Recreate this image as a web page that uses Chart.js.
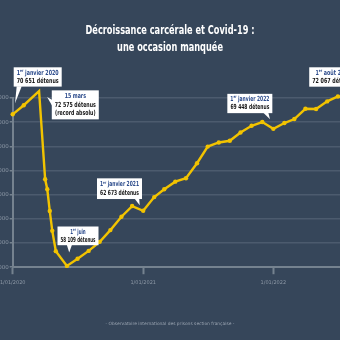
<!DOCTYPE html>
<html lang="fr">
<head>
<meta charset="utf-8">
<title>Décroissance carcérale et Covid-19</title>
<script src="https://cdn.jsdelivr.net/npm/chart.js@4.4.1/dist/chart.umd.min.js"></script>
<style>
    html, body { margin: 0; padding: 0; width: 340px; height: 340px; overflow: hidden; background: #36465a; }
    /* the figure is wider than the window: y labels and the last months are cut off, like the original */
    #wrap { position: absolute; left: -50px; top: 0; width: 440px; height: 340px; }
</style>
</head>
<body>
<div id="wrap"><canvas id="chart" width="440" height="340"></canvas></div>
<script>
// ===== DONNEES =====
const dates = [
    "2020-01-01", "2020-02-01", "2020-03-15", "2020-04-01", "2020-04-07",
    "2020-04-14", "2020-04-21", "2020-05-01", "2020-06-01", "2020-07-01",
    "2020-08-01", "2020-09-01", "2020-10-01", "2020-11-01", "2020-12-01",
    "2021-01-01", "2021-02-01", "2021-03-01", "2021-04-01", "2021-05-01",
    "2021-06-01", "2021-07-01", "2021-08-01", "2021-09-01", "2021-10-01",
    "2021-11-01", "2021-12-01", "2022-01-01", "2022-02-01", "2022-03-01",
    "2022-04-01", "2022-05-01", "2022-06-01", "2022-07-01", "2022-08-01",
];
const detenus = [
    70651, 71400, 72575, 65280, 64450,
    62650, 61010, 59330, 58109, 58700,
    59350, 60100, 61070, 62175, 63060,
    62673, 63800, 64450, 65080, 65360,
    66600, 67980, 68320, 68460, 69150,
    69700, 70010, 69448, 69930, 70260,
    71110, 71090, 71720, 72130, 72067,
];

const xTickDates = ["2020-01-01", "2021-01-01", "2022-01-01"];
const xTickLabels = ["1/01/2020", "1/01/2021", "1/01/2022"];
const yMin = 58000;
const yMax = 72000;
const yStep = 2000;

const calloutDates = ["2020-01-01", "2020-03-15", "2020-06-01", "2021-01-01", "2022-01-01", "2022-08-01"];
const calloutTitles = ["1er janvier 2020", "15 mars", "1er juin", "1er janvier 2021", "1er janvier 2022", "1er août 2022"];
const calloutCounts = ["70 651 détenus", "72 575 détenus", "58 109 détenus", "62 673 détenus", "69 448 détenus", "72 067 détenus"];
const calloutNotes = ["", "(record absolu)", "", "", "", ""];

const titleLines = ["Décroissance carcérale et Covid-19 :", "une occasion manquée"];
const sourceText = "- Observatoire international des prisons section française -";

// ===== MISE EN PAGE DES BULLES (px, relatif au point) =====
const calloutLayout = [
    { dx: 1, dy: -47, w: 48, h: 19.3, tail: [[4, -28], [9, -28], [2.3, -11]] },
    { dx: 12.7, dy: -0.7, w: 47, h: 29, tail: [[13.2, 9], [13.2, 15], [8, 6]] },
    { dx: -9.4, dy: -39.4, w: 41, h: 18.7, tail: [[0, -21], [5, -21], [2.3, -13.5]] },
    { dx: -46.2, dy: -32.4, w: 45, h: 20.7, tail: [[-8.5, -12], [-4, -12], [-3.5, -5.5]] },
    { dx: -46, dy: -35, w: 45, h: 19.3, tail: [[-10, -16], [-5, -16], [-3.3, -9.5]] },
    { dx: -39.7, dy: -29.9, w: 48, h: 19.4, tail: [[-9, -10.8], [-4, -10.8], [-2, -4]] },
];

const YELLOW = "#f2c300";
const GRID = "#4c5b6e";
const AXIS = "#75828f";
const LABEL = "#8d98a6";
const FONT = "'DejaVu Sans', 'Noto Sans', sans-serif";

const DAY0 = Date.UTC(2020, 0, 1);
const dayOf = (d) => {
    const [y, m, j] = d.split("-").map(Number);
    return Math.round((Date.UTC(y, m - 1, j) - DAY0) / 86400000);
};
const fmt = (v) => String(v).replace(/\B(?=(\d{3})+(?!\d))/g, " ");

// largeur d'une ligne "1er ..." (exposant compris)
function lineParts(text) {
    const m = text.match(/^(\d+)(er)( .*)$/);
    return m ? [m[1], m[2], m[3]] : ["", "", text];
}
function lineWidth(ctx, text, size) {
    const [head, sup, rest] = lineParts(text);
    ctx.font = `bold ${size}px ${FONT}`;
    let w = ctx.measureText(head + rest).width;
    ctx.font = `bold ${size * 0.6}px ${FONT}`;
    return w + ctx.measureText(sup).width;
}
// texte condensé horizontalement (police étroite de l'original)
function drawLine(ctx, text, cx, cy, size, sx) {
    const [head, sup, rest] = lineParts(text);
    const big = `bold ${size}px ${FONT}`;
    const small = `bold ${size * 0.6}px ${FONT}`;
    const total = lineWidth(ctx, text, size);
    ctx.save();
    ctx.translate(cx, cy);
    ctx.scale(sx, 1);
    ctx.textBaseline = "middle";
    ctx.textAlign = "left";
    let x = -total / 2;
    if (head) {
        ctx.font = big; ctx.fillText(head, x, 0); x += ctx.measureText(head).width;
        ctx.font = small; ctx.fillText(sup, x, -size * 0.3); x += ctx.measureText(sup).width;
    }
    ctx.font = big;
    ctx.fillText(rest, x, 0);
    ctx.restore();
}

const titlePlugin = {
    id: "narrowTitle",
    afterDraw(chart) {
        const ctx = chart.ctx;
        const cx = chart.width / 2;
        const w0 = lineWidth(ctx, titleLines[0], 13);
        const sx = 169 / w0;
        ctx.fillStyle = "#ffffff";
        titleLines.forEach((t, i) => drawLine(ctx, t, cx, 31 + i * 16.3, 13, sx));
    },
};

const calloutPlugin = {
    id: "callouts",
    afterDatasetsDraw(chart) {
        const ctx = chart.ctx;
        const xs = chart.scales.x, ys = chart.scales.y;
        calloutDates.forEach((d, i) => {
            const k = dates.indexOf(d);
            const px = xs.getPixelForValue(dayOf(d));
            const py = ys.getPixelForValue(detenus[k]);
            const L = calloutLayout[i];
            const bx = px + L.dx, by = py + L.dy;
            ctx.save();
            ctx.fillStyle = "#ffffff";
            ctx.fillRect(bx, by, L.w, L.h);
            ctx.beginPath();
            ctx.moveTo(px + L.tail[0][0], py + L.tail[0][1]);
            ctx.lineTo(px + L.tail[1][0], py + L.tail[1][1]);
            ctx.lineTo(px + L.tail[2][0], py + L.tail[2][1]);
            ctx.closePath();
            ctx.fill();

            const lines = [calloutTitles[i], calloutCounts[i], calloutNotes[i]].filter(Boolean);
            const size = 7;
            const widest = Math.max(...lines.map((t) => lineWidth(ctx, t, size)));
            const sx = Math.min(0.72, (L.w - 6) / widest);
            const gap = 8.3;
            const cx = bx + L.w / 2;
            let cy = by + L.h / 2 - (lines.length - 1) * gap / 2;
            lines.forEach((t, j) => {
                ctx.fillStyle = j === 0 ? "#2d4c8c" : "#141414";
                drawLine(ctx, t, cx, cy, size, sx);
                cy += gap;
            });
            ctx.restore();
        });
    },
};

const points = dates.map((d, i) => ({ x: dayOf(d), y: detenus[i] }));

new Chart(document.getElementById("chart"), {
    type: "line",
    data: {
        datasets: [{
            data: points,
            borderColor: YELLOW,
            backgroundColor: YELLOW,
            borderWidth: 2.4,
            pointRadius: 2.2,
            pointBorderWidth: 0,
            pointBackgroundColor: YELLOW,
            tension: 0,
            clip: false,
        }],
    },
    options: {
        responsive: false,
        animation: false,
        devicePixelRatio: 1,
        layout: { padding: { top: 98 } },
        plugins: {
            legend: { display: false },
            tooltip: { enabled: false },
            title: { display: false, text: titleLines },
            subtitle: {
                display: true,
                position: "bottom",
                text: sourceText,
                color: "#9aa4b1",
                font: { family: FONT, size: 4.4, lineHeight: 1.2 },
                padding: { top: 0, bottom: 14 },
            },
        },
        scales: {
            x: {
                type: "linear",
                min: 0,
                max: 1047,
                afterBuildTicks: (axis) => {
                    axis.ticks = xTickDates.map((d) => ({ value: dayOf(d) }));
                },
                afterFit: (axis) => { axis.height = 53.5; },
                ticks: {
                    autoSkip: false,
                    maxRotation: 0,
                    padding: 5,
                    color: LABEL,
                    font: { family: FONT, size: 5 },
                    callback: (v) => xTickLabels[xTickDates.findIndex((d) => dayOf(d) === v)],
                },
                grid: { drawOnChartArea: false, drawTicks: true, tickLength: 7, tickWidth: 2, tickColor: AXIS },
                border: { color: AXIS, width: 2 },
            },
            y: {
                min: yMin,
                max: yMax,
                afterFit: (axis) => { axis.width = 62.7; },
                ticks: {
                    stepSize: yStep,
                    padding: 1,
                    color: LABEL,
                    font: { family: FONT, size: 5.5 },
                    callback: (v) => fmt(v),
                },
                grid: { color: GRID, lineWidth: 1.5, tickLength: 3, tickColor: AXIS },
                border: { color: AXIS, width: 2 },
            },
        },
    },
    plugins: [calloutPlugin, titlePlugin],
});
</script>
</body>
</html>
